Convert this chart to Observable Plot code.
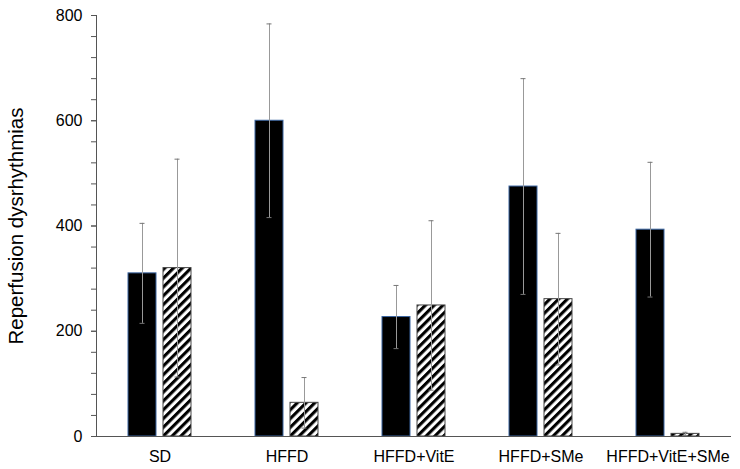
<!DOCTYPE html>
<html><head><meta charset="utf-8">
<script src="https://cdn.jsdelivr.net/npm/d3@7"></script>
<script src="https://cdn.jsdelivr.net/npm/@observablehq/plot@0.6"></script>
<style>body{margin:0;background:#fff} svg{display:block}</style>
</head><body><div id="chart"></div>
<script>
const categories = ["SD", "HFFD", "HFFD+VitE", "HFFD+SMe", "HFFD+VitE+SMe"];
const seriesNames = ["A", "B"];
const valuesA = [310, 600, 227, 475, 393];
const errorsA = [95, 184, 60, 205, 128];
const valuesB = [320, 64, 249, 261, 5];
const errorsB = [207, 48, 161, 125, 3];
const majorTicks = [0, 200, 400, 600, 800];
const minorTicks = [0, 40, 80, 120, 160, 200, 240, 280, 320, 360, 400, 440, 480, 520, 560, 600, 640, 680, 720, 760, 800];
const yLabel = "Reperfusion dysrhythmias";

const rows = categories.flatMap((c, i) => [
  {cat: c, series: "A", value: valuesA[i], err: errorsA[i]},
  {cat: c, series: "B", value: valuesB[i], err: errorsB[i]}
]);

const plot = Plot.plot({
  width: 740, height: 469,
  marginLeft: 95, marginRight: 8, marginTop: 15, marginBottom: 33,
  style: {fontFamily: "'Liberation Sans', Arial, sans-serif", background: "white", color: "black"},
  fx: {domain: categories, padding: 0, label: null},
  x: {domain: seriesNames, paddingInner: 0.2, paddingOuter: 0.87, axis: null},
  y: {domain: [0, 800], axis: null},
  marks: [
    Plot.barY(rows.filter(d => d.series === "A"), {fx: "cat", x: "series", y: "value", fill: "black", stroke: "#3a64a0", strokeWidth: 1}),
    Plot.barY(rows.filter(d => d.series === "B"), {fx: "cat", x: "series", y: "value", fill: "url(#hatch)", stroke: "#444", strokeWidth: 1}),
    Plot.ruleX(rows, {fx: "cat", x: "series", y1: d => d.value - d.err, y2: d => d.value + d.err, stroke: "#999", strokeWidth: 1}),
    Plot.tickY(rows, {fx: "cat", x: "series", y: d => d.value + d.err, inset: 11.5, stroke: "#777"}),
    Plot.tickY(rows, {fx: "cat", x: "series", y: d => d.value - d.err, inset: 11.5, stroke: "#777"}),
    Plot.ruleY([0], {stroke: "#555"}),
    Plot.frame({anchor: "left", facetAnchor: "left", stroke: "#555"}),
    Plot.axisY({ticks: minorTicks, tickFormat: () => "", tickSize: 5, stroke: "#555", label: null}),
    Plot.axisY({ticks: majorTicks, tickSize: 5, tickPadding: 9, fontSize: 16, stroke: "#555", label: null}),
    Plot.axisY({ticks: [], label: yLabel, labelArrow: "none", labelAnchor: "center", labelOffset: 88, fontSize: 20.5}),
    Plot.axisFx({anchor: "bottom", tickSize: 0, tickPadding: 14, fontSize: 16, label: null})
  ]
});

d3.select(plot).insert("defs", ":first-child").html(
  `<pattern id="hatch" patternUnits="userSpaceOnUse" width="6.2" height="6.2" patternTransform="rotate(45)">
     <rect width="6.2" height="6.2" fill="white"></rect>
     <rect width="3.1" height="6.2" fill="black"></rect>
   </pattern>`);

document.getElementById("chart").appendChild(plot);
</script>
</body></html>
